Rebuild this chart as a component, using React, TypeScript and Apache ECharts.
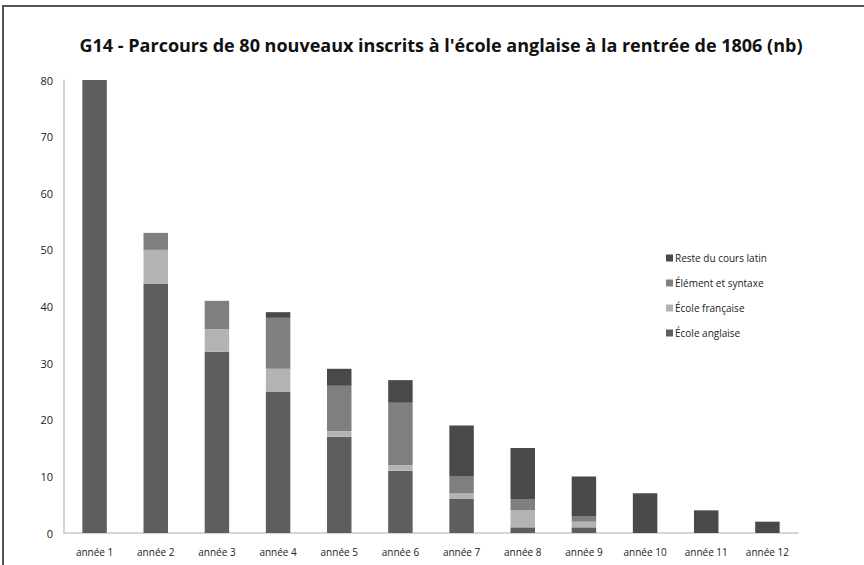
import React, { useEffect, useRef } from "react";
import * as echarts from "echarts";

const categories = ["année 1", "année 2", "année 3", "année 4", "année 5", "année 6", "année 7", "année 8", "année 9", "année 10", "année 11", "année 12"];
const ecoleAnglaise = [80, 44, 32, 25, 17, 11, 6, 1, 1, 0, 0, 0];
const ecoleFrancaise = [0, 6, 4, 4, 1, 1, 1, 3, 1, 0, 0, 0];
const elementSyntaxe = [0, 3, 5, 9, 8, 11, 3, 2, 1, 0, 0, 0];
const resteLatin = [0, 0, 0, 1, 3, 4, 9, 9, 7, 7, 4, 2];
const yTicks = [0, 10, 20, 30, 40, 50, 60, 70, 80];

const FONT = "'Open Sans', 'Liberation Sans', sans-serif";

export default function App() {
  const ref = useRef<HTMLDivElement>(null);
  useEffect(() => {
    if (!ref.current) return;
    const chart = echarts.init(ref.current, undefined, { renderer: "svg" });
    const mk = (name: string, data: number[], color: string) => ({
      name,
      type: "bar",
      stack: "total",
      data,
      barWidth: "40%",
      itemStyle: { color },
      emphasis: { disabled: true },
    });
    chart.setOption({
      animation: false,
      backgroundColor: "#ffffff",
      title: {
        text: "G14 - Parcours de 80 nouveaux inscrits à l'école anglaise à la rentrée de 1806 (nb)",
        left: 436,
        textAlign: "center",
        top: 31,
        textStyle: { fontFamily: FONT, fontWeight: "bold", fontSize: 18, color: "#111" },
      },
      graphic: [
        {
          type: "rect",
          shape: { x: 3, y: 6, width: 900, height: 600 },
          style: { fill: "none", stroke: "#555", lineWidth: 2 },
          silent: true,
        },
      ],
      legend: {
        orient: "vertical",
        left: 661,
        top: 248,
        itemWidth: 7,
        itemHeight: 7,
        itemGap: 15,
        icon: "rect",
        data: ["Reste du cours latin", "Élément et syntaxe", "École française", "École anglaise"],
        textStyle: { fontFamily: FONT, fontSize: 10, color: "#222", padding: [0, 0, 0, -3] },
      },
      grid: { left: 64, right: 66, top: 80, bottom: 32, containLabel: false },
      xAxis: {
        type: "category",
        data: categories,
        axisLine: { lineStyle: { color: "#c8c8c8", width: 1.5 } },
        axisTick: { show: false },
        axisLabel: { fontFamily: FONT, fontSize: 10, color: "#222", margin: 14, interval: 0 },
      },
      yAxis: {
        type: "value",
        min: 0,
        max: 80,
        interval: 10,
        axisLine: { show: true, lineStyle: { color: "#c8c8c8", width: 1.5 } },
        axisTick: { show: false },
        splitLine: { show: false },
        axisLabel: { fontFamily: FONT, fontSize: 11, color: "#222", margin: 11,
          formatter: (v: number) => (yTicks.includes(v) ? String(v) : "") },
      },
      series: [
        mk("École anglaise", ecoleAnglaise, "#5e5e5e"),
        mk("École française", ecoleFrancaise, "#b3b3b3"),
        mk("Élément et syntaxe", elementSyntaxe, "#7f7f7f"),
        mk("Reste du cours latin", resteLatin, "#494949"),
      ],
    });
    return () => chart.dispose();
  }, []);
  return <div ref={ref} style={{ width: 864, height: 565, position: "absolute", left: 0, top: 0 }} />;
}
